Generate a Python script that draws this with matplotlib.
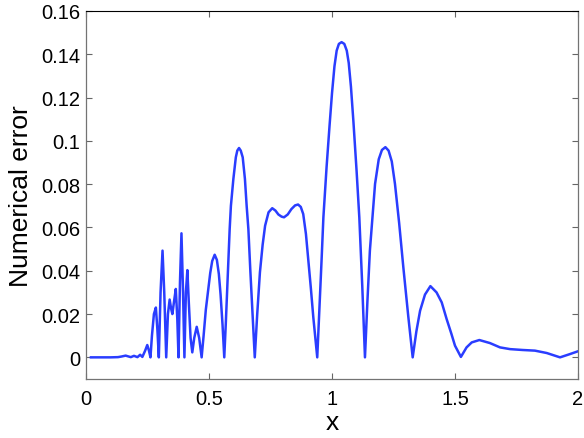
import matplotlib
matplotlib.use('Agg')
import matplotlib.pyplot as plt

plt.rcParams['font.family'] = ['Liberation Sans', 'DejaVu Sans']

# Curve
x_vals = [0.02, 0.06, 0.10, 0.13, 0.145, 0.161, 0.175, 0.182, 0.195, 0.209,
          0.220, 0.229, 0.240, 0.249, 0.256, 0.262, 0.268, 0.276, 0.284, 0.290,
          0.296, 0.303, 0.311, 0.318, 0.326, 0.333, 0.340, 0.346, 0.351, 0.358,
          0.365, 0.371, 0.376, 0.382, 0.388, 0.394, 0.400, 0.406, 0.412, 0.418,
          0.425, 0.432, 0.440, 0.450, 0.460, 0.470, 0.478, 0.487, 0.497, 0.505,
          0.513, 0.523, 0.532, 0.540, 0.547, 0.555, 0.562, 0.568, 0.575, 0.584,
          0.589, 0.599, 0.609, 0.615, 0.622, 0.629, 0.637, 0.646, 0.653, 0.660,
          0.668, 0.677, 0.686, 0.696, 0.707, 0.718, 0.728, 0.742, 0.757, 0.770,
          0.782, 0.795, 0.805, 0.820, 0.835, 0.850, 0.862, 0.873, 0.883, 0.894,
          0.904, 0.914, 0.924, 0.932, 0.940, 0.950, 0.958, 0.965, 0.978, 0.990,
          1.000, 1.010, 1.019, 1.028, 1.039, 1.050, 1.060, 1.068, 1.077, 1.087,
          1.100, 1.111, 1.123, 1.134, 1.144, 1.154, 1.175, 1.190, 1.203, 1.217,
          1.230, 1.243, 1.256, 1.273, 1.290, 1.310, 1.328, 1.343, 1.358, 1.378,
          1.400, 1.425, 1.446, 1.466, 1.485, 1.500, 1.524, 1.547, 1.568, 1.599,
          1.642, 1.683, 1.724, 1.775, 1.825, 1.873, 1.927, 1.967, 2.000]
err_vals = [0.0, 0.0, 0.0, 0.0001, 0.0004, 0.0008, 0.0003, 0.0001, 0.0007, 0.0001,
            0.0012, 0.0002, 0.0030, 0.0057, 0.0030, 0.0000, 0.0100, 0.0200, 0.0230, 0.0130,
            0.0000, 0.0300, 0.0493, 0.0300, 0.0000, 0.0200, 0.0267, 0.0225, 0.0200, 0.0260,
            0.0316, 0.0180, 0.0000, 0.0350, 0.0573, 0.0320, 0.0000, 0.0300, 0.0403, 0.0250,
            0.0090, 0.0023, 0.0090, 0.0141, 0.0090, 0.0000, 0.0100, 0.0220, 0.0316, 0.0390,
            0.0445, 0.0474, 0.0450, 0.0385, 0.0290, 0.0150, 0.0000, 0.0150, 0.0340, 0.0593,
            0.0700, 0.0824, 0.0924, 0.0955, 0.0967, 0.0955, 0.0924, 0.0824, 0.0700, 0.0593,
            0.0400, 0.0200, 0.0000, 0.0200, 0.0393, 0.0520, 0.0608, 0.0670, 0.0689, 0.0678,
            0.0660, 0.0650, 0.0647, 0.0660, 0.0685, 0.0702, 0.0706, 0.0695, 0.0662, 0.0570,
            0.0446, 0.0320, 0.0185, 0.0090, 0.0000, 0.0250, 0.0460, 0.0647, 0.0880, 0.1070,
            0.1220, 0.1345, 0.1417, 0.1448, 0.1456, 0.1448, 0.1417, 0.1360, 0.1250, 0.1090,
            0.0860, 0.0647, 0.0330, 0.0000, 0.0260, 0.0493, 0.0801, 0.0915, 0.0958, 0.0971,
            0.0955, 0.0905, 0.0801, 0.0620, 0.0416, 0.0190, 0.0000, 0.0120, 0.0215, 0.0290,
            0.0329, 0.0300, 0.0254, 0.0177, 0.0110, 0.0054, 0.0002, 0.0046, 0.0069, 0.0080,
            0.0066, 0.0046, 0.0038, 0.0034, 0.0031, 0.0020, 0.0000, 0.0015, 0.0028]

x_ticks = [0, 0.5, 1, 1.5, 2]
x_ticklabels = ['0', '0.5', '1', '1.5', '2']
y_ticks = [0, 0.02, 0.04, 0.06, 0.08, 0.1, 0.12, 0.14, 0.16]
y_ticklabels = ['0', '0.02', '0.04', '0.06', '0.08', '0.1', '0.12', '0.14', '0.16']

fig = plt.figure(figsize=(5.84, 4.39), dpi=100)
ax = fig.add_axes([0.1473, 0.1344, 0.8424, 0.8383])

ax.plot(x_vals, err_vals, color='#2a3dff', linewidth=1.8)

ax.set_xlim(0, 2)
ax.set_ylim(-0.01, 0.16)
ax.set_xticks(x_ticks)
ax.set_xticklabels(x_ticklabels)
ax.set_yticks(y_ticks)
ax.set_yticklabels(y_ticklabels)

ax.tick_params(direction='in', length=4, width=0.8, color='0.4',
               labelsize=14.5, top=True, right=True)
ax.tick_params(axis='x', pad=7)
ax.tick_params(axis='y', pad=4)
for side in ['left', 'bottom', 'right']:
    ax.spines[side].set_color('0.45')
    ax.spines[side].set_linewidth(0.9)
ax.spines['top'].set_color('black')
ax.spines['top'].set_linewidth(0.8)

ax.set_xlabel('x', fontsize=19, labelpad=2)
ax.set_ylabel('Numerical error', fontsize=19, labelpad=6)

plt.savefig('out.png', dpi=100)
